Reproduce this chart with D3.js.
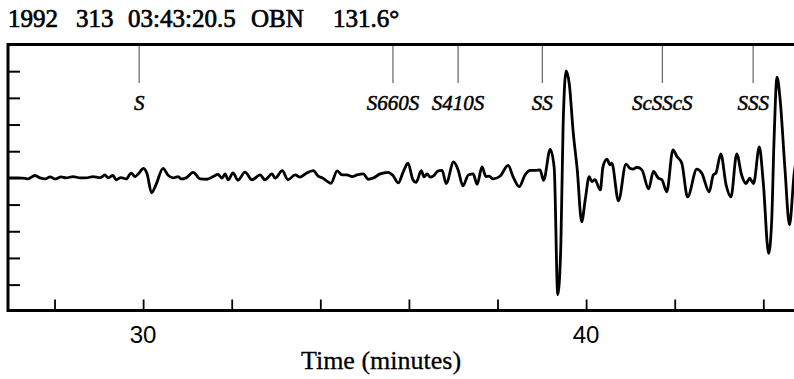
<!DOCTYPE html>
<html>
<head>
<meta charset="utf-8">
<script src="https://cdn.jsdelivr.net/npm/d3@7/dist/d3.min.js"></script>
<style>
  html, body { margin: 0; padding: 0; background: #fff; }
  svg { display: block; }
</style>
</head>
<body>
<svg id="chart" width="794" height="379"></svg>
<script>
// ---- data ----
const titleParts = ["1992", "313", "03:43:20.5", "OBN", "131.6°"];

const timeMin = [
  26.95, 27.18, 27.34, 27.40, 27.56, 27.67, 27.79, 27.90, 28.01, 28.15,
  28.26, 28.42, 28.58, 28.71, 28.87, 29.03, 29.14, 29.21, 29.32, 29.39,
  29.50, 29.62, 29.73, 29.82, 29.89, 30.01, 30.09, 30.19, 30.29, 30.45,
  30.56, 30.68, 30.79, 30.86, 30.97, 31.13, 31.29, 31.44, 31.58, 31.69,
  31.78, 31.85, 31.92, 32.03, 32.14, 32.30, 32.46, 32.64, 32.75, 32.91,
  32.98, 33.14, 33.27, 33.43, 33.54, 33.66, 33.84, 33.95, 34.06, 34.24,
  34.38, 34.49, 34.60, 34.72, 34.83, 34.97, 35.08, 35.19, 35.35, 35.53,
  35.64, 35.76, 35.87, 35.98, 36.09, 36.16, 36.28, 36.34, 36.41, 36.48,
  36.55, 36.66, 36.75, 36.84, 37.01, 37.11, 37.22, 37.34, 37.45, 37.54,
  37.65, 37.74, 37.81, 37.90, 38.06, 38.24, 38.35, 38.49, 38.62, 38.74,
  38.85, 38.96, 39.04, 39.19, 39.28, 39.36, 39.43, 39.48, 39.55, 39.62,
  39.71, 39.80, 39.90, 39.98, 40.07, 40.13, 40.20, 40.32, 40.38, 40.47,
  40.54, 40.58, 40.73, 40.90, 40.99, 41.06, 41.15, 41.26, 41.41, 41.52,
  41.63, 41.71, 41.82, 41.96, 42.05, 42.16, 42.29, 42.50, 42.61, 42.78,
  42.87, 42.93, 43.04, 43.16, 43.27, 43.40, 43.51, 43.61, 43.69, 43.78,
  43.91, 44.00, 44.12, 44.19, 44.24, 44.31, 44.38, 44.49, 44.59, 44.70,
  44.76
];
const amplitude = [
  0.00, 0.00, -0.02, -0.04, 0.09, 0.00, -0.04, 0.04, -0.04, 0.04,
  0.00, 0.05, 0.00, 0.00, 0.05, 0.01, 0.11, 0.00, 0.09, -0.07,
  0.01, -0.04, 0.18, 0.05, 0.15, 0.36, 0.15, -0.56, -0.26, 0.36,
  0.11, 0.00, 0.05, -0.04, 0.00, 0.21, -0.04, -0.05, 0.05, 0.13,
  -0.01, 0.15, -0.07, 0.19, -0.09, 0.22, -0.07, 0.11, -0.07, 0.15,
  -0.01, 0.27, -0.07, 0.11, 0.03, 0.15, 0.27, 0.07, -0.01, -0.20,
  0.26, 0.11, 0.11, 0.05, 0.11, 0.15, -0.05, -0.01, 0.15, 0.21,
  0.09, -0.19, 0.22, 0.55, -0.07, -0.17, 0.27, 0.04, 0.15, 0.03,
  0.07, 0.26, 0.28, -0.21, 0.60, 0.30, -0.30, 0.11, 0.15, -0.24,
  0.41, 0.05, 0.07, -0.04, 0.07, 0.47, 0.05, -0.33, 0.11, 0.28,
  0.28, 0.30, -0.09, 1.07, 0.37, -4.38, -2.51, 1.91, 4.01, 3.52,
  1.69, 0.30, -1.65, -0.82, 0.05, -0.14, -0.07, -0.45, 0.41, 0.70,
  0.49, 0.55, -0.86, 0.52, 0.36, 0.33, 0.40, 0.30, -0.41, 0.24,
  -0.01, -0.07, -0.52, 1.05, 0.80, 0.55, -0.71, 0.33, 0.18, -0.52,
  0.11, 0.18, 0.90, -0.26, -0.71, 0.90, 0.11, -0.21, -0.01, -0.21,
  1.16, -0.20, -2.83, -1.57, 1.30, 3.78, 2.92, 0.30, -1.76, 0.22,
  0.80
];

const phaseNames = ["S", "S660S", "S410S", "SS", "ScSScS", "SSS"];
const phaseTimes = [29.91, 35.64, 37.11, 39.01, 41.72, 43.77];

const xTickValues = [28, 30, 32, 34, 36, 38, 40, 42, 44];
const xLabelValues = [30, 40];
const yTickValues = [-4, -3, -2, -1, 0, 1, 2, 3, 4];
const xAxisTitle = "Time (minutes)";

// ---- drawing ----
const svg = d3.select("#chart");
const plotLeft = 8, plotTop = 44.5, plotBottom = 310.5;
const x = d3.scaleLinear().domain([26.95, 44.9]).range([plotLeft, plotLeft + 17.95 * 44.3]);
const y = d3.scaleLinear().domain([-4.97, 5.0]).range([plotBottom, plotTop]);

const serif = "'Liberation Serif', 'Times New Roman', serif";
const sans = "'Liberation Sans', Arial, sans-serif";

// title
const titleX = [8, 76, 128, 251, 333];
const title = svg.append("text")
  .attr("y", 27)
  .attr("font-family", serif)
  .attr("font-size", 25)
  .attr("fill", "#000")
  .attr("stroke", "#000")
  .attr("stroke-width", 0.7);
titleParts.forEach((p, i) => {
  title.append("tspan").attr("x", titleX[i]).text(p);
});

// clip
svg.append("clipPath").attr("id", "plotclip")
  .append("rect").attr("x", plotLeft).attr("y", plotTop)
  .attr("width", 800).attr("height", plotBottom - plotTop);

// trace
const data = timeMin.map((t, i) => [t, amplitude[i]]);
const line = d3.line()
  .x(d => x(d[0]))
  .y(d => y(d[1]))
  .curve(d3.curveMonotoneX);
svg.append("path")
  .datum(data)
  .attr("clip-path", "url(#plotclip)")
  .attr("fill", "none")
  .attr("stroke", "#000")
  .attr("stroke-width", 2.8)
  .attr("stroke-linejoin", "round")
  .attr("d", line);

// phase markers
const phases = svg.append("g");
phaseTimes.forEach((t, i) => {
  phases.append("line")
    .attr("x1", x(t)).attr("x2", x(t))
    .attr("y1", plotTop).attr("y2", 83)
    .attr("stroke", "#444").attr("stroke-width", 1);
  phases.append("text")
    .attr("x", x(t)).attr("y", 110)
    .attr("text-anchor", "middle")
    .attr("font-family", serif)
    .attr("font-style", "italic")
    .attr("font-size", 21)
    .attr("fill", "#000")
    .attr("stroke", "#000")
    .attr("stroke-width", 0.5)
    .text(phaseNames[i]);
});

// bottom axis (ticks inward)
const xAxis = d3.axisBottom(x).tickValues(xTickValues).tickSize(-11).tickFormat("");
const gx = svg.append("g").attr("transform", `translate(0,${plotBottom})`).call(xAxis);
gx.select(".domain").remove();
gx.selectAll(".tick line").attr("stroke", "#000").attr("stroke-width", 1.8);

// left axis (ticks inward)
const yAxis = d3.axisLeft(y).tickValues(yTickValues).tickSize(-12).tickFormat("");
const gy = svg.append("g").attr("transform", `translate(${plotLeft},0)`).call(yAxis);
gy.select(".domain").remove();
gy.selectAll(".tick line").attr("stroke", "#000").attr("stroke-width", 2);

// frame
svg.append("path")
  .attr("d", `M${x.range()[1]},${plotTop}H${plotLeft}V${plotBottom}H${x.range()[1]}`)
  .attr("fill", "none")
  .attr("stroke", "#000")
  .attr("stroke-width", 3);

// x labels
svg.append("g").selectAll("text").data(xLabelValues).join("text")
  .attr("x", d => x(d))
  .attr("y", 343)
  .attr("text-anchor", "middle")
  .attr("font-family", sans)
  .attr("font-size", 24)
  .attr("fill", "#000")
  .text(d => d);

svg.append("text")
  .attr("x", 381)
  .attr("y", 369)
  .attr("text-anchor", "middle")
  .attr("font-family", serif)
  .attr("font-size", 26)
  .attr("fill", "#000")
  .attr("stroke", "#000")
  .attr("stroke-width", 0.3)
  .text(xAxisTitle);
</script>
</body>
</html>
